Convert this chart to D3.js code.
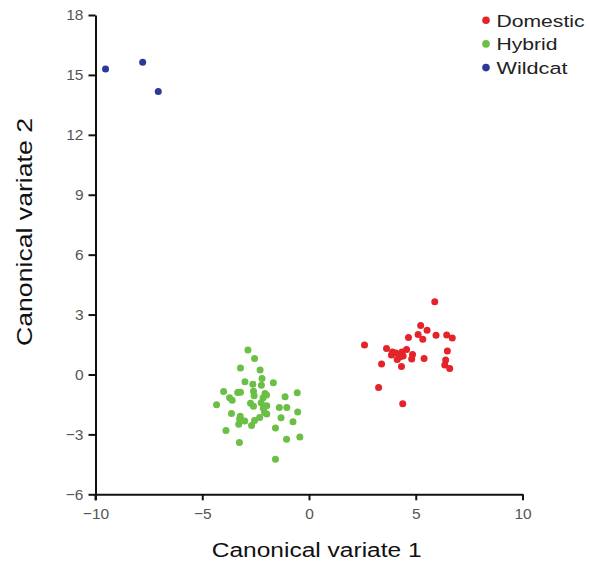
<!DOCTYPE html>
<html>
<head>
<meta charset="utf-8">
<script src="https://cdn.jsdelivr.net/npm/d3@7"></script>
<style>
  html, body { margin: 0; padding: 0; background: #ffffff; }
  svg { display: block; }
</style>
</head>
<body>
<svg id="chart" width="589" height="562"></svg>
<script>
// ---- data (canonical variate 1, canonical variate 2) ----
const groups = ["Domestic", "Hybrid", "Wildcat"];
const colors = ["#e4232b", "#6abf45", "#2b3a9a"];

const domestic = [
  [5.89, 3.64], [5.23, 2.45], [5.53, 2.22], [5.11, 2.00], [5.33, 1.77],
  [4.66, 1.85], [5.95, 1.97], [6.45, 1.98], [6.71, 1.83], [2.60, 1.47],
  [3.63, 1.30], [3.91, 1.13], [3.86, 0.97], [4.35, 1.13], [4.57, 1.25],
  [4.41, 0.93], [4.13, 0.75], [4.85, 1.00], [4.81, 0.77], [5.39, 0.80],
  [6.48, 1.18], [6.40, 0.72], [6.36, 0.47], [6.59, 0.30], [3.40, 0.52],
  [4.33, 0.40], [3.26, -0.65], [4.39, -1.47], [4.07, 1.07], [4.25, 0.87]
];

const hybrid = [
  [-2.86, 1.22], [-2.55, 0.80], [-3.21, 0.33], [-2.29, 0.22], [-3.00, -0.37],
  [-2.20, -0.20], [-2.63, -0.49], [-2.23, -0.54], [-1.67, -0.41], [-4.00, -0.85],
  [-3.34, -0.90], [-3.21, -0.89], [-2.60, -0.84], [-2.06, -0.95], [-3.72, -1.17],
  [-3.60, -1.29], [-2.57, -1.06], [-2.15, -1.16], [-1.12, -1.11], [-0.55, -0.92],
  [-4.33, -1.52], [-2.74, -1.44], [-2.60, -1.59], [-2.24, -1.41], [-1.98, -1.56],
  [-2.14, -1.69], [-1.39, -1.65], [-1.04, -1.65], [-0.53, -1.88], [-3.63, -1.96],
  [-3.22, -2.09], [-2.08, -1.91], [-1.31, -2.17], [-3.25, -2.23], [-3.01, -2.33],
  [-2.55, -2.31], [-2.31, -2.16], [-3.29, -2.49], [-2.69, -2.56], [-0.75, -2.37],
  [-3.89, -2.80], [-1.57, -2.68], [-1.05, -3.24], [-0.43, -3.13], [-3.26, -3.40],
  [-1.57, -4.24], [-1.99, -1.03], [-1.98, -1.98]
];

const wildcat = [
  [-9.53, 15.29], [-7.79, 15.64], [-7.06, 14.17]
];

const xTicks = [-10, -5, 0, 5, 10];
const yTicks = [-6, -3, 0, 3, 6, 9, 12, 15, 18];
const xTitle = "Canonical variate 1";
const yTitle = "Canonical variate 2";

// ---- drawing ----
const svg = d3.select("#chart");
const x = d3.scaleLinear().domain([-10, 10]).range([95.5, 522.5]);
const y = d3.scaleLinear().domain([-6, 18]).range([494.3, 15]);

const font = "'Liberation Sans', Arial, sans-serif";

// axes
const xAxis = svg.append("g")
  .attr("transform", `translate(0,${y(-6)})`)
  .call(d3.axisBottom(x).tickValues(xTicks).tickSize(6).tickSizeOuter(0).tickPadding(8).tickFormat(d3.format("d")));
const yAxis = svg.append("g")
  .attr("transform", `translate(${x(-10)},0)`)
  .call(d3.axisLeft(y).tickValues(yTicks).tickSize(7).tickSizeOuter(0).tickPadding(5).tickFormat(d3.format("d")));

[xAxis, yAxis].forEach(g => {
  g.select(".domain").attr("stroke", "#111").attr("stroke-width", 2);
  g.selectAll(".tick line").attr("stroke", "#111").attr("stroke-width", 2);
  g.selectAll(".tick text")
    .attr("fill", "#555")
    .style("font-family", font)
    .style("font-size", "15.5px");
});
// extend y axis line slightly below x axis (as in reference)
yAxis.append("line")
  .attr("x1", 0).attr("x2", 0)
  .attr("y1", y(-6)).attr("y2", y(-6) + 6)
  .attr("stroke", "#111").attr("stroke-width", 2);

// points
const sets = [domestic, hybrid, wildcat];
sets.forEach((pts, i) => {
  svg.append("g").selectAll("circle")
    .data(pts)
    .join("circle")
    .attr("cx", d => x(d[0]))
    .attr("cy", d => y(d[1]))
    .attr("r", 3.5)
    .attr("fill", colors[i]);
});

// axis titles
svg.append("text")
  .attr("x", 316.7).attr("y", 557)
  .attr("text-anchor", "middle")
  .attr("textLength", 210).attr("lengthAdjust", "spacingAndGlyphs")
  .style("font-family", font).style("font-size", "19.5px")
  .attr("fill", "#111")
  .text(xTitle);

svg.append("text")
  .attr("transform", `translate(31.5,232) rotate(-90)`)
  .attr("text-anchor", "middle")
  .attr("textLength", 228).attr("lengthAdjust", "spacingAndGlyphs")
  .style("font-family", font).style("font-size", "22px")
  .attr("fill", "#111")
  .text(yTitle);

// legend
const legendLens = [88, 61, 71];
const legend = svg.append("g");
groups.forEach((g, i) => {
  const base = 26.7 + i * 23.7;
  legend.append("circle")
    .attr("cx", 486).attr("cy", base - 6.5)
    .attr("r", 3.8)
    .attr("fill", colors[i]);
  legend.append("text")
    .attr("x", 496.5).attr("y", base)
    .attr("textLength", legendLens[i]).attr("lengthAdjust", "spacingAndGlyphs")
    .style("font-family", font).style("font-size", "16.3px")
    .attr("fill", "#222")
    .text(g);
});
</script>
</body>
</html>
